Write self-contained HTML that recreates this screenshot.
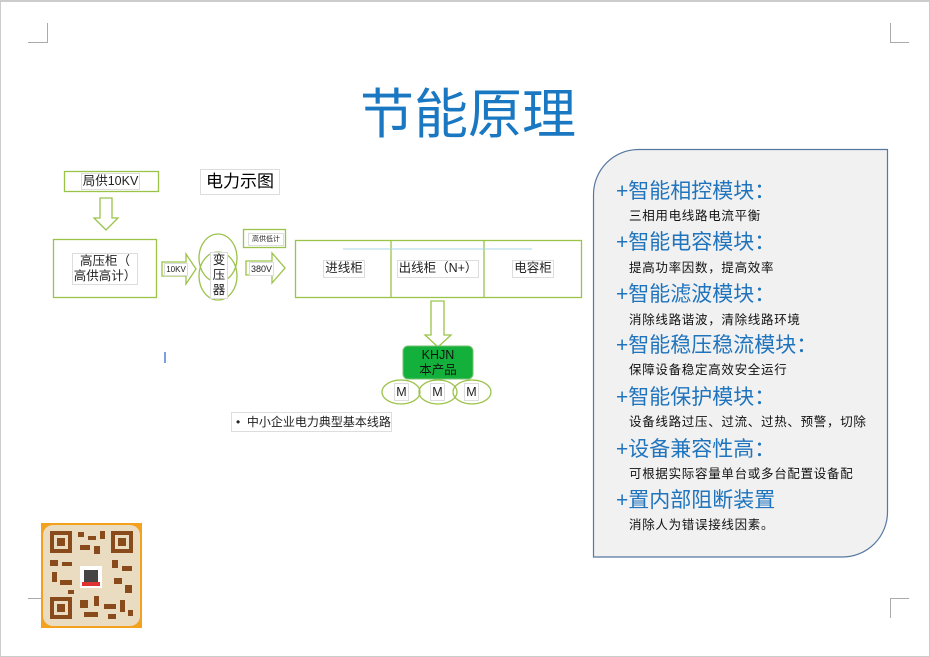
<!DOCTYPE html>
<html><head><meta charset="utf-8"><style>
*{margin:0;padding:0;box-sizing:border-box}
body{width:930px;height:657px;position:relative;background:#fff;overflow:hidden;font-family:"Liberation Sans","Noto Sans CJK SC",sans-serif}
.a{position:absolute;white-space:nowrap}
.lb{position:absolute;background:#fff;border:1px solid #ddd;font-size:12.5px;color:#222;line-height:15px;text-align:center;white-space:nowrap;overflow:visible}
.h{position:absolute;left:616px;font-size:21px;color:#1f74bd;line-height:22px;white-space:nowrap}
.s{position:absolute;left:629px;font-size:12.5px;letter-spacing:0.7px;color:#111;line-height:14px;white-space:nowrap}
</style></head><body>
<div class="a" style="left:0;top:0;width:930px;height:657px;border:1px solid #ccc;border-top-width:2px"></div>
<svg class="a" style="left:0;top:0" width="930" height="657">
<g stroke="#aaa" stroke-width="1" fill="none">
<path d="M47.5 23V42.5H28"/><path d="M890.5 23V42.5H909"/>
<path d="M28 598.5H47.5V618"/><path d="M909 598.5H890.5V618"/>
</g>
<path d="M638 149.5H887.5V512a45 45 0 0 1 -45 45H593.5V194.5a45 45 0 0 1 45 -45z" fill="#f1f1f1" stroke="#5677a0" stroke-width="1.2"/>
<g fill="none" stroke="#9bc34a" stroke-width="1.3">
<rect x="64.5" y="171.5" width="94" height="20"/>
<path d="M100 198h12v20h6l-12 12l-12 -12h6z"/>
<rect x="53.5" y="239.5" width="103" height="58"/>
<path d="M162 262h24v-8l10 15l-10 15v-8h-24z"/>
<ellipse cx="218" cy="258" rx="19" ry="24"/>
<ellipse cx="218" cy="276" rx="19" ry="24"/>
<rect x="243.5" y="229.5" width="42" height="18"/>
<path d="M246 261h26v-8l13 15l-13 15v-8h-26z"/>
<rect x="295.5" y="240.5" width="286" height="57"/>
<line x1="391" y1="240" x2="391" y2="298"/><line x1="484" y1="240" x2="484" y2="298"/>
<path d="M431 301h13v34h7l-13 12l-13 -12h6z"/>
<ellipse cx="401" cy="392" rx="19" ry="12"/>
<ellipse cx="438" cy="392" rx="19" ry="12"/>
<ellipse cx="472" cy="392" rx="19" ry="12"/>
</g>
<line x1="343" y1="249" x2="532" y2="249" stroke="#a8d4e6" stroke-width="1"/>
<rect x="403" y="346" width="70" height="33" rx="5" fill="#14b03c" stroke="#7ac070"/>
<rect x="164" y="352" width="2" height="11" fill="#7aa0e0"/>
<rect x="41" y="523" width="101" height="105" fill="#f4a21e"/>
<rect x="43" y="525" width="97" height="101" rx="10" fill="#e9dcc0"/>
<g fill="#8a4b1c">
<rect x="50" y="531" width="22" height="22"/><rect x="111" y="531" width="22" height="22"/><rect x="50" y="597" width="22" height="22"/>
<rect x="78" y="532" width="6" height="5"/><rect x="88" y="536" width="8" height="4"/><rect x="100" y="531" width="5" height="8"/>
<rect x="80" y="545" width="10" height="5"/><rect x="94" y="546" width="6" height="8"/><rect x="50" y="560" width="8" height="6"/>
<rect x="62" y="562" width="10" height="4"/><rect x="52" y="572" width="5" height="10"/><rect x="60" y="580" width="12" height="5"/>
<rect x="112" y="560" width="6" height="8"/><rect x="122" y="566" width="10" height="5"/><rect x="114" y="578" width="8" height="6"/>
<rect x="125" y="585" width="7" height="8"/><rect x="80" y="600" width="8" height="8"/><rect x="94" y="596" width="5" height="10"/>
<rect x="104" y="604" width="12" height="5"/><rect x="120" y="600" width="5" height="12"/><rect x="84" y="612" width="14" height="5"/>
<rect x="108" y="614" width="8" height="5"/><rect x="128" y="610" width="5" height="6"/><rect x="68" y="590" width="6" height="4"/>
</g>
<g fill="#e9dcc0"><rect x="54" y="535" width="14" height="14"/><rect x="115" y="535" width="14" height="14"/><rect x="54" y="601" width="14" height="14"/></g>
<g fill="#8a4b1c"><rect x="57" y="538" width="8" height="8"/><rect x="118" y="538" width="8" height="8"/><rect x="57" y="604" width="8" height="8"/></g>
<rect x="80" y="566" width="22" height="22" fill="#fff"/><rect x="84" y="570" width="14" height="12" fill="#444"/><rect x="82" y="582" width="18" height="4" fill="#d33"/>
</svg>

<div class="a" style="left:0;width:930px;top:82px;text-align:center;padding-left:6px;font-size:54px;color:#1a78c2;line-height:66px">节能原理</div>

<div class="lb" style="left:81px;top:173px;width:59px;height:17px">局供10KV</div>
<div class="lb" style="left:200px;top:169px;width:80px;height:26px;font-size:17px;line-height:24px;color:#000">电力示图</div>
<div class="lb" style="left:72px;top:253px;width:66px;height:32px;line-height:15px">高压柜（<br>高供高计）</div>
<div class="lb" style="left:164px;top:263px;width:24px;height:13px;font-size:8px;line-height:11px">10KV</div>
<div class="lb" style="left:210px;top:252px;width:18px;height:47px;font-size:12.5px;line-height:15px">变<br>压<br>器</div>
<div class="lb" style="left:248px;top:233px;width:36px;height:13px;font-size:7px;line-height:11px">高供低计</div>
<div class="lb" style="left:249px;top:262px;width:25px;height:14px;font-size:9px;line-height:12px">380V</div>
<div class="lb" style="left:323px;top:260px;width:42px;height:18px">进线柜</div>
<div class="lb" style="left:397px;top:260px;width:82px;height:18px">出线柜（N+）</div>
<div class="lb" style="left:512px;top:260px;width:42px;height:18px">电容柜</div>
<div class="a" style="left:416px;top:348px;width:44px;text-align:center;font-size:12.5px;line-height:15px;color:#111">KHJN<br>本产品</div>
<div class="lb" style="left:394px;top:383px;width:15px;height:18px;line-height:16px">M</div>
<div class="lb" style="left:430px;top:383px;width:15px;height:18px;line-height:16px">M</div>
<div class="lb" style="left:464px;top:383px;width:15px;height:18px;line-height:16px">M</div>
<div class="lb" style="left:231px;top:412px;width:161px;height:20px;line-height:18px;text-align:left;padding-left:4px;font-size:12px">•&nbsp;&nbsp;中小企业电力典型基本线路</div>

<div class="h" style="top:181px">+智能相控模块：</div>
<div class="s" style="top:209px">三相用电线路电流平衡</div>
<div class="h" style="top:232px">+智能电容模块：</div>
<div class="s" style="top:261px">提高功率因数，提高效率</div>
<div class="h" style="top:284px">+智能滤波模块：</div>
<div class="s" style="top:313px">消除线路谐波，清除线路环境</div>
<div class="h" style="top:335px">+智能稳压稳流模块：</div>
<div class="s" style="top:363px">保障设备稳定高效安全运行</div>
<div class="h" style="top:387px">+智能保护模块：</div>
<div class="s" style="top:415px">设备线路过压、过流、过热、预警，切除</div>
<div class="h" style="top:439px">+设备兼容性高：</div>
<div class="s" style="top:467px">可根据实际容量单台或多台配置设备配</div>
<div class="h" style="top:490px">+置内部阻断装置</div>
<div class="s" style="top:518px">消除人为错误接线因素。</div>
</body></html>
